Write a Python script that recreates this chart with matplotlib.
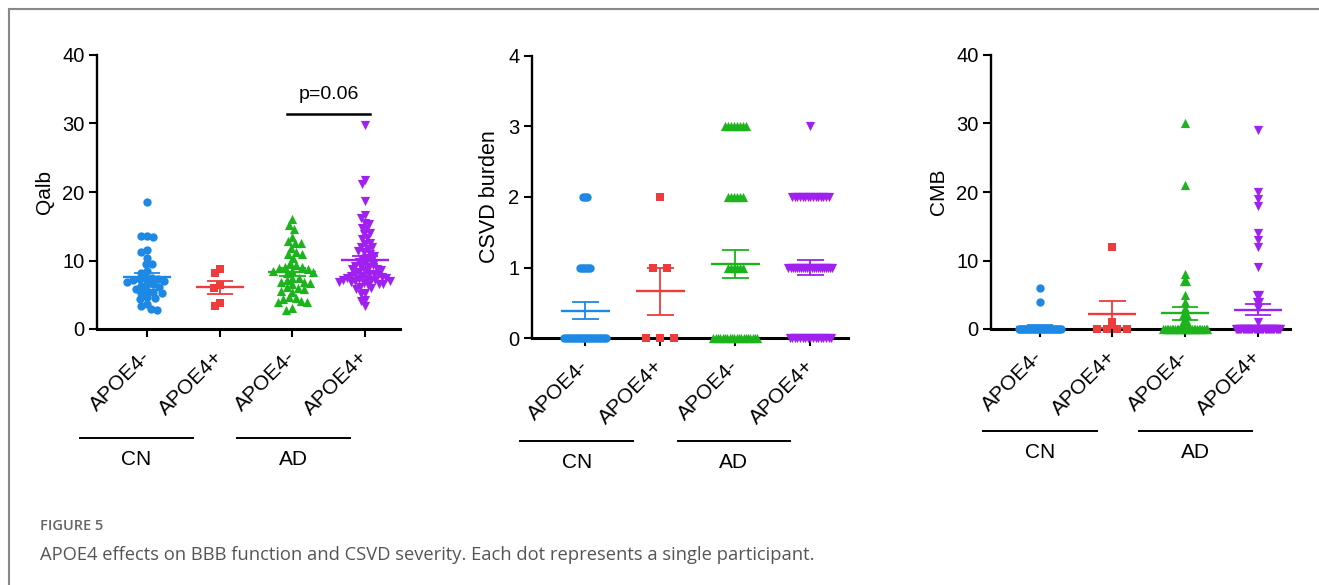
import numpy as np
import matplotlib
matplotlib.use("Agg")
import matplotlib.pyplot as plt
from matplotlib.lines import Line2D
import matplotlib.transforms as mtransforms

plt.rcParams['font.family'] = ['Liberation Sans', 'DejaVu Sans']

# groups (CN APOE4-, CN APOE4+, AD APOE4-, AD APOE4+)
group_labels = ['APOE4-', 'APOE4+', 'APOE4-', 'APOE4+']
colors = ['#1E88E5', '#EE3B3B', '#1DB31D', '#A020F0']
markers = ['o', 's', '^', 'v']
msizes = [36, 32, 44, 44]

# Qalb values
qalb_cn_neg = [18.6, 13.6, 13.6, 13.4, 11.6, 11.2, 10.4, 9.5, 9.5, 8.4, 8.2, 7.5, 7.4,
               7.3, 7.3, 7.2, 7.0, 6.9, 6.6, 6.5, 6.3, 6.1, 5.9, 5.6, 5.4, 5.3, 5.3,
               4.6, 4.5, 4.4, 3.6, 3.4, 2.9, 2.8]
qalb_cn_pos = [8.8, 8.2, 6.4, 6.0, 3.8, 3.3]
qalb_ad_neg = [16.0, 15.2, 14.6, 13.5, 12.8, 12.6, 12.5, 11.8, 11.2, 11.0, 10.9, 10.4,
               9.6, 9.4, 9.1, 9.0, 8.9, 8.8, 8.5, 8.4, 8.3, 8.2, 7.5, 7.4, 7.2, 6.9,
               6.8, 6.7, 6.5, 6.1, 6.0, 5.8, 5.6, 5.4, 4.6, 4.5, 4.4, 4.1, 4.0, 3.9,
               3.0, 2.8]
qalb_ad_pos = [29.8, 21.7, 21.2, 18.7, 16.6, 16.2, 15.5, 15.3, 14.8, 14.6, 14.0, 13.9,
               13.3, 13.1, 12.6, 12.4, 12.0, 11.9, 11.7, 11.4, 11.2, 10.9, 10.7, 10.4,
               10.2, 10.0, 9.8, 9.5, 9.3, 9.2, 9.1, 9.0, 8.8, 8.7, 8.6, 8.5, 8.3, 8.1,
               8.0, 8.0, 7.9, 7.8, 7.7, 7.6, 7.5, 7.4, 7.3, 7.3, 7.2, 7.2, 7.1, 7.0,
               7.0, 6.9, 6.8, 6.7, 6.6, 6.5, 6.4, 6.2, 6.0, 5.9, 5.3, 5.1, 4.3, 4.1, 3.3]

# CSVD burden: levels and counts per group
csvd_levels = [0, 1, 2, 3]
csvd_cn_neg = [22, 6, 3, 0]
csvd_cn_pos = [3, 2, 1, 0]
csvd_ad_neg = [20, 6, 6, 8]
csvd_ad_pos = [17, 22, 15, 1]

# CMB counts: (value, number of participants)
cmb_cn_neg = ([0, 4, 6], [29, 1, 1])
cmb_cn_pos = ([0, 1, 12], [4, 1, 1])
cmb_ad_neg = ([0, 1, 2, 3, 4, 5, 7, 8, 21, 30], [27, 3, 3, 1, 1, 1, 2, 1, 1, 1])
cmb_ad_pos = ([0, 1, 3, 4, 5, 9, 12, 13, 14, 18, 19, 20, 29],
              [41, 1, 1, 2, 2, 1, 1, 1, 1, 1, 1, 1, 1])


def swarm(vals, d, py, cap=26):
    # simple beeswarm, offsets in pixels, squeezed to a max half width
    vals = np.asarray(vals, float)
    ys = vals * py
    xs = np.zeros(len(vals))
    px_l, py_l = [], []
    for i in np.argsort(-vals):
        y = ys[i]
        cands = [0.0]
        for a, b in zip(px_l, py_l):
            dy = abs(y - b)
            if dy < d:
                dx = np.sqrt(d * d - dy * dy)
                cands += [a - dx, a + dx]
        cands.sort(key=lambda c: (abs(c), c))
        for c in cands:
            if all((c - a) ** 2 + (y - b) ** 2 >= d * d - 1e-6 for a, b in zip(px_l, py_l)):
                break
        xs[i] = c
        px_l.append(c)
        py_l.append(y)
    mx = np.abs(xs).max()
    if mx > cap:
        xs = xs * cap / mx
    return xs


def rows(vals, step, cap=44):
    vals = np.asarray(vals, float)
    xs = np.zeros(len(vals))
    for v in np.unique(vals):
        idx = np.where(vals == v)[0]
        n = len(idx)
        if n > 1:
            s = min(step, cap / (n - 1))
            xs[idx] = (np.arange(n) - (n - 1) / 2) * s
    return xs


def draw_group(ax, pos, vals, xoff_px, i):
    vals = np.asarray(vals, float)
    bb = ax.bbox
    x0, x1 = ax.get_xlim()
    ppx = bb.width / (x1 - x0)
    ax.scatter(pos + xoff_px / ppx, vals, s=msizes[i], marker=markers[i],
               color=colors[i], linewidths=0, zorder=3, clip_on=False)
    m = vals.mean()
    sem = vals.std(ddof=1) / np.sqrt(len(vals))
    ax.hlines(m, pos - 0.33, pos + 0.33, color=colors[i], lw=1.7, zorder=4)
    ax.vlines(pos, m - sem, m + sem, color=colors[i], lw=1.3, zorder=4)
    ax.hlines([m - sem, m + sem], pos - 0.18, pos + 0.18, color=colors[i], lw=1.3, zorder=4)


def style(ax, ylim, yticks, ylabel, xlim, ylsize):
    ax.set_xlim(*xlim)
    ax.set_ylim(*ylim)
    ax.set_yticks(yticks)
    ax.set_xticks([1, 2, 3, 4])
    ax.set_xticklabels(group_labels, rotation=45, ha='right', va='center',
                       rotation_mode='anchor', fontsize=15)
    ax.tick_params(axis='x', length=6, width=1.5, pad=12)
    ax.tick_params(axis='y', length=6, width=1.5, labelsize=14.5, pad=3)
    ax.set_ylabel(ylabel, fontsize=ylsize, labelpad=6)
    for s in ['top', 'right']:
        ax.spines[s].set_visible(False)
    ax.spines['left'].set_linewidth(1.7)
    ax.spines['bottom'].set_linewidth(2.2)


def group_bars(ax, y, cn, ad, ly):
    tr = mtransforms.blended_transform_factory(ax.transData, ax.transAxes)
    for (a, b), lab in zip([cn, ad], ['CN', 'AD']):
        ax.plot([a, b], [y, y], color='black', lw=1.4, transform=tr, clip_on=False)
        ax.text((a + b) / 2, ly, lab, transform=tr, ha='center', va='center', fontsize=15)


W, H = 1319, 585
fig = plt.figure(figsize=(W / 100, H / 100), dpi=100)

# panel 1: Qalb
ax1 = fig.add_axes([97 / W, 1 - 329 / H, 303 / W, 274 / H])
style(ax1, (0, 40), [0, 10, 20, 30, 40], 'Qalb', (0.31, 4.48), 15)
py1 = ax1.bbox.height / 40
for i, v in enumerate([qalb_cn_neg, qalb_cn_pos, qalb_ad_neg, qalb_ad_pos]):
    draw_group(ax1, i + 1, v, swarm(v, 6.3, py1), i)
ax1.plot([2.93, 4.07], [31.4, 31.4], color='black', lw=1.8)
ax1.text(3.5, 34.2, 'p=0.06', ha='center', va='center', fontsize=14)
group_bars(ax1, -0.398, (0.08, 1.63), (2.24, 3.79), -0.478)

# panel 2: CSVD burden
ax2 = fig.add_axes([532 / W, 1 - 338 / H, 316 / W, 282 / H])
style(ax2, (0, 4), [0, 1, 2, 3, 4], 'CSVD burden', (0.29, 4.5), 15.5)
csvd_steps = [2.0, 14, 3.0, 2.6]
for i, c in enumerate([csvd_cn_neg, csvd_cn_pos, csvd_ad_neg, csvd_ad_pos]):
    v = np.repeat(csvd_levels, c)
    draw_group(ax2, i + 1, v, rows(v, csvd_steps[i]), i)
group_bars(ax2, -0.365, (0.13, 1.64), (2.23, 3.73), -0.443)

# panel 3: CMB
ax3 = fig.add_axes([991 / W, 1 - 329 / H, 299 / W, 274 / H])
style(ax3, (0, 40), [0, 10, 20, 30, 40], 'CMB', (0.33, 4.44), 15)
cmb_steps = [1.5, 10, 1.8, 1.1]
for i, (lv, c) in enumerate([cmb_cn_neg, cmb_cn_pos, cmb_ad_neg, cmb_ad_pos]):
    v = np.repeat(lv, c)
    draw_group(ax3, i + 1, v, rows(v, cmb_steps[i]), i)
group_bars(ax3, -0.372, (0.22, 1.79), (2.36, 3.92), -0.449)

# frame and caption
fig.add_artist(Line2D([9 / W, 9 / W], [0, 1 - 9 / H], transform=fig.transFigure,
                      color='#888888', lw=1.5))
fig.add_artist(Line2D([9 / W, 1], [1 - 9 / H, 1 - 9 / H], transform=fig.transFigure,
                      color='#888888', lw=1.5))
fig.text(40 / W, 1 - 526 / H, 'FIGURE 5', fontsize=10.5, color='#666666', weight='semibold',
         family=['Open Sans', 'DejaVu Sans'], va='center')
fig.text(40 / W, 1 - 555 / H,
         'APOE4 effects on BBB function and CSVD severity. Each dot represents a single participant.',
         fontsize=13.2, color='#555555', family=['Open Sans', 'DejaVu Sans'], va='center')

fig.savefig('out.png', dpi=100)
